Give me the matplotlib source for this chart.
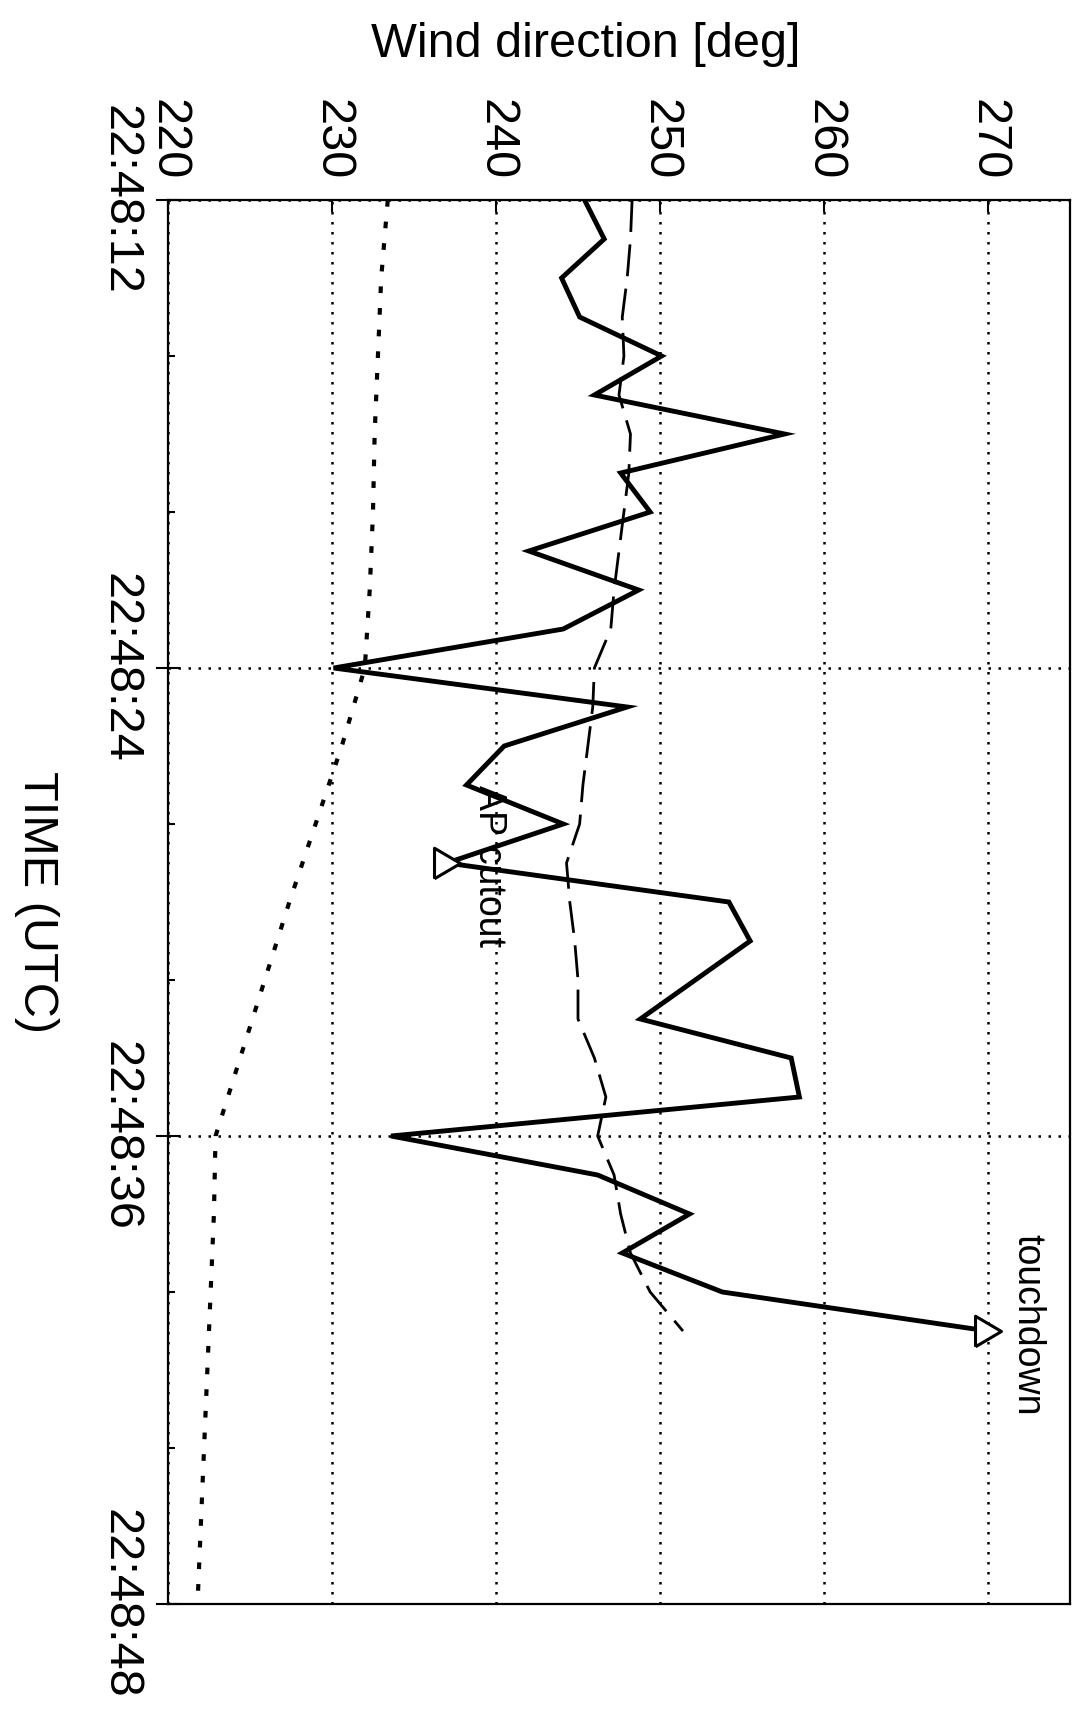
import matplotlib
matplotlib.use('Agg')
import matplotlib.pyplot as plt

plt.rcParams['font.family'] = ['Liberation Sans', 'DejaVu Sans']

# ---------------- data ----------------
time_tick_seconds = [0, 12, 24, 36]
time_tick_labels = ['22:48:12', '22:48:24', '22:48:36', '22:48:48']
time_minor_seconds = [4, 8, 16, 20, 28, 32]
dir_ticks = [220, 230, 240, 250, 260, 270]
dir_tick_labels = ['220', '230', '240', '250', '260', '270']

# measured wind direction (solid)
t_meas = [0, 1, 2, 3, 4, 5, 6, 7, 8, 9, 10, 11, 12, 13, 14, 15, 16, 17, 18, 19,
          21, 22, 23, 24, 25, 26, 27, 28, 29]
dir_meas = [245.4, 246.6, 244.0, 245.1, 250.1, 246.0, 257.6, 247.6, 249.4, 242.0,
            248.7, 244.1, 230.1, 248.0, 240.5, 238.2, 244.1, 237.0, 254.2, 255.5,
            248.8, 258.0, 258.5, 233.6, 246.2, 251.8, 247.7, 253.8, 270.0]

# smoothed wind direction (dashed)
t_smooth = [0, 1, 2, 3, 4, 5, 6, 7, 8, 9, 10, 11, 12, 13, 14, 15, 16, 17, 18, 19,
            20, 21, 22, 23, 24, 25, 26, 27, 28, 29]
dir_smooth = [248.3, 248.2, 248.0, 247.7, 247.8, 247.5, 248.2, 248.1, 247.8, 247.5,
              247.2, 247.0, 246.0, 245.9, 245.6, 245.3, 245.1, 244.3, 244.5, 244.8,
              245.0, 245.0, 246.0, 246.7, 246.2, 247.2, 247.6, 248.2, 249.4, 251.4]

# reference wind direction (dotted)
t_ref = [0, 2, 4, 6, 8, 10, 12, 14, 16, 18, 20, 22, 24, 26, 28, 30, 32, 34, 36]
dir_ref = [233.4, 233.0, 232.8, 232.6, 232.5, 232.3, 232.0, 230.6, 229.0, 227.4,
           225.9, 224.4, 222.9, 222.8, 222.6, 222.4, 222.2, 222.0, 221.8]

# events on the measured curve
event_labels = ['AP cutout', 'touchdown']
event_index = [17, 28]          # index into t_meas / dir_meas

# ---------------- figure ----------------
fig = plt.figure(figsize=(10.78, 17.19), dpi=100)
ax = fig.add_axes([0.15584, 0.06690, 0.83673, 0.81675])

grid_kw = dict(color='black', linewidth=1.8, linestyle=(0, (1, 3)))
ax.grid(True, axis='both', **grid_kw)
ax.set_axisbelow(True)

ax.plot(dir_ref, t_ref, color='black', linewidth=3.0,
        linestyle=(0, (1.6, 3.6)), zorder=3)
ax.plot(dir_smooth, t_smooth, color='black', linewidth=2.0,
        linestyle=(0, (11.5, 4.5)), zorder=3)
ax.plot(dir_meas, t_meas, color='black', linewidth=3.5, zorder=4,
        solid_joinstyle='miter')

tri = [(-0.425, -0.5), (0.425, 0.0), (-0.425, 0.5), (-0.425, -0.5)]
ev_x = [dir_meas[i] for i in event_index]
ev_y = [t_meas[i] for i in event_index]
ax.plot(ev_x, ev_y, linestyle='none', marker=tri, markersize=22,
        markerfacecolor='white', markeredgecolor='black',
        markeredgewidth=2.2, zorder=5)

ax.text(239.55, 15.0, event_labels[0], rotation=-90, ha='center', va='top',
        fontsize=27, zorder=6)
ax.text(272.4, 26.5, event_labels[1], rotation=-90, ha='center', va='top',
        fontsize=27, zorder=6)

ax.set_xlim(220, 275)
ax.set_ylim(36, 0)

ax.set_xticks(dir_ticks)
ax.set_xticklabels(dir_tick_labels, rotation=-90, ha='center', va='bottom',
                   fontsize=35)
ax.xaxis.tick_top()
ax.tick_params(axis='x', which='both', direction='in', length=8.5, width=1.5,
               top=True, bottom=False, labeltop=True, labelbottom=False,
               pad=14)

ax.set_yticks(time_tick_seconds)
ax.set_yticks(time_minor_seconds, minor=True)
ax.set_yticklabels(time_tick_labels, rotation=-90, ha='right', va='center',
                   fontsize=35)
ax.tick_params(axis='y', which='major', direction='inout', length=17,
               width=1.5, left=True, right=False, pad=10)
ax.tick_params(axis='y', which='minor', direction='in', length=5,
               width=1.5, left=True, right=False)

for s in ax.spines.values():
    s.set_linewidth(1.6)
    s.set_color('black')

ax.set_ylabel('TIME (UTC)', rotation=-90, fontsize=35, ha='center', va='center')
ax.yaxis.set_label_coords(-0.1463, 0.5)

ax.xaxis.set_label_position('top')
ax.set_xlabel('Wind direction [deg]', fontsize=35, ha='center', va='baseline')
ax.xaxis.set_label_coords(0.4634, 1.1018)

fig.savefig('out.png', dpi=100)
